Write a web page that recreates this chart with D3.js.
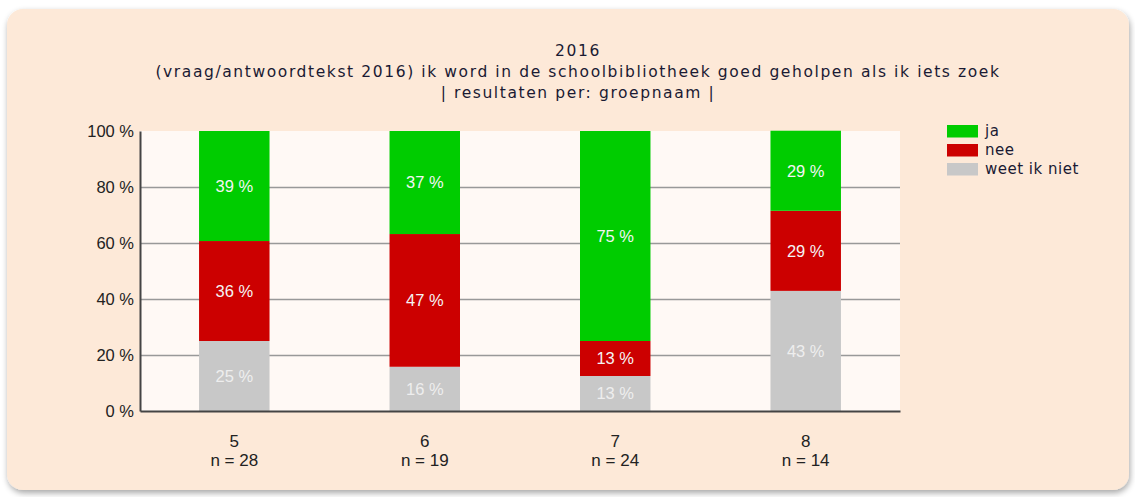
<!DOCTYPE html>
<html>
<head>
<meta charset="utf-8">
<script src="https://cdn.jsdelivr.net/npm/d3@7"></script>
<style>
  body { margin: 0; background: #fff; }
  svg { display: block; }
</style>
</head>
<body>
<svg></svg>
<script>
// data
const groups = ["5", "6", "7", "8"];
const counts = [28, 19, 24, 14];
const answers = ["ja", "nee", "weet ik niet"];
const weet = [25, 15.8, 12.5, 42.9];
const nee = [35.7, 47.4, 12.5, 28.6];
const ja = [39.3, 36.8, 75, 28.6];
const yTicks = [0, 20, 40, 60, 80, 100];
const titleLines = ["2016",
  "(vraag/antwoordtekst 2016) ik word in de schoolbibliotheek goed geholpen als ik iets zoek",
  "| resultaten per: groepnaam |"];

const colors = {"ja": "#00cc00", "nee": "#cc0000", "weet ik niet": "#c8c8c8"};
const labelColors = {"ja": "#f4f4f4", "nee": "#f4f4f4", "weet ik niet": "#eeeeee"};

const svgWidth = 1135;
const svgHeight = 497;
const sansFont = "'Liberation Sans', Arial, sans-serif";
const titleFont = "'DejaVu Sans', Verdana, sans-serif";

const svg = d3.select("svg")
    .attr("width", svgWidth)
    .attr("height", svgHeight);

// panel with soft shadow
const defs = svg.append("defs");
const f = defs.append("filter").attr("id", "shadow")
    .attr("x", "-5%").attr("y", "-5%").attr("width", "110%").attr("height", "115%");
f.append("feGaussianBlur").attr("in", "SourceAlpha").attr("stdDeviation", 3);
f.append("feOffset").attr("dx", 1).attr("dy", 3).attr("result", "b");
f.append("feComponentTransfer").append("feFuncA").attr("type", "linear").attr("slope", 0.35);
const fm = f.append("feMerge");
fm.append("feMergeNode");
fm.append("feMergeNode").attr("in", "SourceGraphic");

svg.append("rect")
    .attr("x", 7).attr("y", 9)
    .attr("width", 1122).attr("height", 481)
    .attr("rx", 16)
    .attr("fill", "#fde9d8")
    .attr("filter", "url(#shadow)");

const margin = {top: 131, left: 140};
const width = 760;
const height = 280;
const g = svg.append("g").attr("transform", "translate(" + margin.left + "," + margin.top + ")");

const rows = groups.map((grp, i) => ({
    group: grp, n: counts[i],
    "weet ik niet": weet[i], "nee": nee[i], "ja": ja[i]
}));

const x = d3.scaleBand()
    .domain(groups)
    .range([0, width])
    .paddingInner(0.63)
    .paddingOuter(0.31);

const y = d3.scaleLinear()
    .domain([0, 100])
    .range([height, 0]);

// plot background
g.append("rect")
    .attr("width", width).attr("height", height)
    .attr("fill", "#fff9f5");

// grid lines
g.append("g")
    .selectAll("line")
    .data(yTicks.slice(1, -1))
    .join("line")
    .attr("x1", 0).attr("x2", width)
    .attr("y1", d => y(d) + 0.5).attr("y2", d => y(d) + 0.5)
    .attr("stroke", "#999")
    .attr("stroke-width", 1.3);

// stacked bars
const stack = d3.stack().keys(["weet ik niet", "nee", "ja"]);
const series = stack(rows);

const layer = g.append("g").selectAll("g")
    .data(series)
    .join("g")
    .attr("fill", d => colors[d.key]);

layer.selectAll("rect")
    .data(d => d)
    .join("rect")
    .attr("x", d => x(d.data.group))
    .attr("y", d => y(d[1]))
    .attr("width", x.bandwidth())
    .attr("height", d => y(d[0]) - y(d[1]));

layer.selectAll("text")
    .data(d => d.map(v => ({key: d.key, v: v})))
    .join("text")
    .attr("x", d => x(d.v.data.group) + x.bandwidth() / 2)
    .attr("y", d => (y(d.v[0]) + y(d.v[1])) / 2)
    .attr("dy", "0.35em")
    .attr("text-anchor", "middle")
    .attr("fill", d => labelColors[d.key])
    .style("font-family", sansFont)
    .style("font-size", "16.5px")
    .text(d => Math.round(d.v.data[d.key]) + " %");

// axes
const yAxis = g.append("g")
    .call(d3.axisLeft(y).tickValues(yTicks).tickSize(0).tickPadding(6).tickFormat(d => d + " %"));
yAxis.select(".domain").attr("stroke", "#444").attr("stroke-width", 2);
yAxis.selectAll("text")
    .attr("fill", "#222")
    .style("font-family", sansFont)
    .style("font-size", "16.5px");

const xAxis = g.append("g")
    .attr("transform", "translate(0," + height + ")")
    .call(d3.axisBottom(x).tickSize(0).tickFormat(""));
xAxis.select(".domain").attr("stroke", "#444").attr("stroke-width", 2);

const catLabels = g.append("g").selectAll("text")
    .data(rows)
    .join("text")
    .attr("x", d => x(d.group) + x.bandwidth() / 2)
    .attr("y", height + 36)
    .attr("text-anchor", "middle")
    .attr("fill", "#222")
    .style("font-family", sansFont)
    .style("font-size", "17px");
catLabels.append("tspan").text(d => d.group);
catLabels.append("tspan")
    .attr("x", d => x(d.group) + x.bandwidth() / 2)
    .attr("dy", 19)
    .text(d => "n = " + d.n);

// title
svg.append("g").selectAll("text")
    .data(titleLines)
    .join("text")
    .attr("x", 578)
    .attr("y", (d, i) => 56 + i * 21)
    .attr("text-anchor", "middle")
    .attr("fill", "#1a1a33")
    .style("font-family", titleFont)
    .style("font-size", "15.5px")
    .style("letter-spacing", "1.6px")
    .text(d => d);

// legend
const legend = svg.append("g")
    .attr("transform", "translate(947,125)")
    .selectAll("g")
    .data(answers)
    .join("g")
    .attr("transform", (d, i) => "translate(0," + i * 19 + ")");

legend.append("rect")
    .attr("width", 31).attr("height", 12.5)
    .attr("fill", d => colors[d]);

legend.append("text")
    .attr("x", 38).attr("y", 6)
    .attr("dy", "0.35em")
    .attr("fill", "#1a1a33")
    .style("font-family", titleFont)
    .style("font-size", "15px")
    .style("letter-spacing", "0.5px")
    .text(d => d);
</script>
</body>
</html>
